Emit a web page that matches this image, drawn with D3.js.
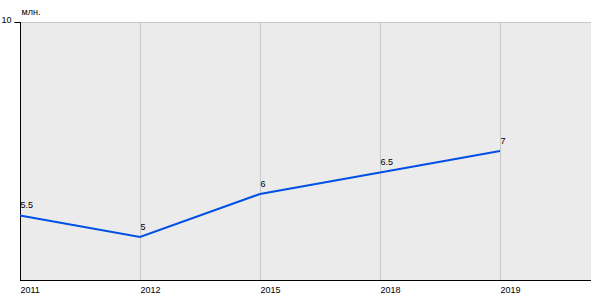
<!DOCTYPE html>
<html><head><meta charset="utf-8">
<script src="https://cdn.jsdelivr.net/npm/d3@7"></script>
<style>body{margin:0;background:#fff}svg{display:block}text{font-family:"Liberation Sans",Arial,sans-serif;font-size:9px;fill:#000}</style>
</head><body><svg id="c" width="600" height="300"></svg>
<script>
const years = ["2011","2012","2015","2018","2019"];
const values = [5.5, 5, 6, 6.5, 7];
const labels = ["5.5","5","6","6.5","7"];
const yTicks = [10];
const unit = "млн.";

const svg = d3.select("#c");
const pL = 20, pR = 591, pT = 22, pB = 280;
const x = d3.scalePoint().domain(years).range([pL, 500]);
const y = d3.scaleLinear().domain([4, 10]).range([pB, pT]);

svg.append("rect").attr("x", pL).attr("y", pT).attr("width", pR - pL).attr("height", pB - pT).attr("fill", "#ebebeb");

// vertical grid
svg.append("g").selectAll("line").data(years.slice(1)).join("line")
  .attr("x1", d => x(d) + 0.5).attr("x2", d => x(d) + 0.5)
  .attr("y1", pT).attr("y2", pB).attr("stroke", "#c8c8c8").attr("stroke-width", 1);
// horizontal grid
svg.append("g").selectAll("line").data(yTicks).join("line")
  .attr("x1", pL).attr("x2", pR).attr("y1", d => y(d) + 0.5).attr("y2", d => y(d) + 0.5)
  .attr("stroke", "#c8c8c8");

// y axis
const ya = svg.append("g").attr("transform", `translate(${pL + 0.5},0)`)
  .call(d3.axisLeft(y).tickValues(yTicks).tickFormat(d3.format("d")).tickSize(6).tickPadding(3));
ya.select(".domain").attr("d", `M0,${pT}V${pB}`).attr("stroke", "#000");
ya.selectAll(".tick line").attr("stroke", "#000");
ya.selectAll("text").style("font-size", "9px").attr("dy", "0.5").attr("fill", "#000");

// x axis
const xa = svg.append("g").attr("transform", `translate(0,${pB + 0.5})`)
  .call(d3.axisBottom(x).tickSize(0).tickPadding(6));
xa.select(".domain").attr("d", `M${pL},0H${pR}`).attr("stroke", "#000");
xa.selectAll("text").attr("text-anchor", "start").style("font-size", "9px").attr("fill", "#000");

svg.append("text").attr("x", pL + 1.5).attr("y", 14.5).text(unit);

const line = d3.line().x((d, i) => x(years[i])).y(d => y(d));
svg.append("path").datum(values).attr("d", line).attr("fill", "none")
  .attr("stroke", "#0050e6").attr("stroke-width", 2);

svg.append("g").selectAll("text").data(values).join("text")
  .attr("x", (d, i) => x(years[i]) + 0.5).attr("y", d => y(d) - 7.5)
  .text((d, i) => labels[i]);
</script></body></html>
